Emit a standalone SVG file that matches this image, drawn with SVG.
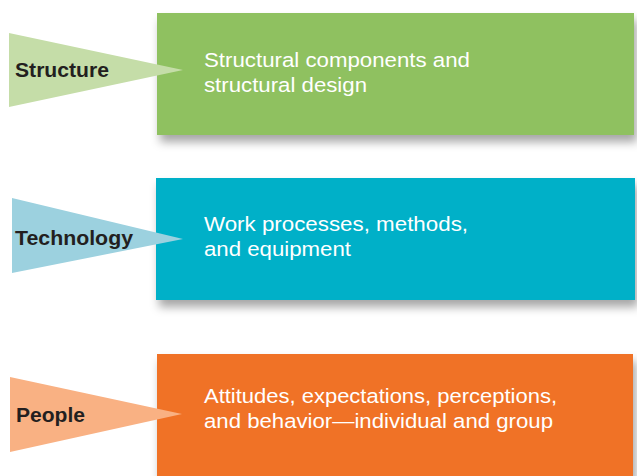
<svg xmlns="http://www.w3.org/2000/svg" width="637" height="476" viewBox="0 0 637 476">
<defs>
<filter id="sh" x="-10%" y="-20%" width="130%" height="150%">
<feDropShadow dx="3" dy="7" stdDeviation="5" flood-color="#000" flood-opacity="0.35"/>
</filter>
<style>
.lbl{font-family:"Liberation Sans",Arial,sans-serif;font-weight:bold;font-size:21px;fill:#231F20}
.txt{font-family:"Liberation Sans",Arial,sans-serif;font-size:20.5px;fill:#fff}
</style>
</defs>
<rect width="637" height="476" fill="#fff"/>
<g id="connectors"></g>
<g id="structure">
<rect x="157" y="13" width="477" height="122" fill="#8FC160" filter="url(#sh)"/>
<polygon points="9,33 183,70 9,107" fill="#C5DDA8"/>
<text class="lbl" x="15" y="77" textLength="94" lengthAdjust="spacingAndGlyphs">Structure</text>
<text class="txt" x="204" y="67" textLength="266" lengthAdjust="spacingAndGlyphs">Structural components and</text>
<text class="txt" x="204" y="92" textLength="163" lengthAdjust="spacingAndGlyphs">structural design</text>
</g>
<g id="technology">
<rect x="156" y="178" width="479" height="122" fill="#00B0C8" filter="url(#sh)"/>
<polygon points="12,198 183,239 12,273" fill="#9CD1DF"/>
<text class="lbl" x="15" y="245" textLength="118" lengthAdjust="spacingAndGlyphs">Technology</text>
<text class="txt" x="204" y="231" textLength="264" lengthAdjust="spacingAndGlyphs">Work processes, methods,</text>
<text class="txt" x="204" y="256" textLength="147" lengthAdjust="spacingAndGlyphs">and equipment</text>
</g>
<g id="people">
<rect x="157" y="354" width="476" height="122" fill="#F07226" filter="url(#sh)"/>
<polygon points="10,377 182,414 10,452" fill="#F9B183"/>
<text class="lbl" x="16" y="422" textLength="69" lengthAdjust="spacingAndGlyphs">People</text>
<text class="txt" x="204" y="403" textLength="353" lengthAdjust="spacingAndGlyphs">Attitudes, expectations, perceptions,</text>
<text class="txt" x="204" y="428" textLength="349" lengthAdjust="spacingAndGlyphs">and behavior—individual and group</text>
</g>
</svg>
